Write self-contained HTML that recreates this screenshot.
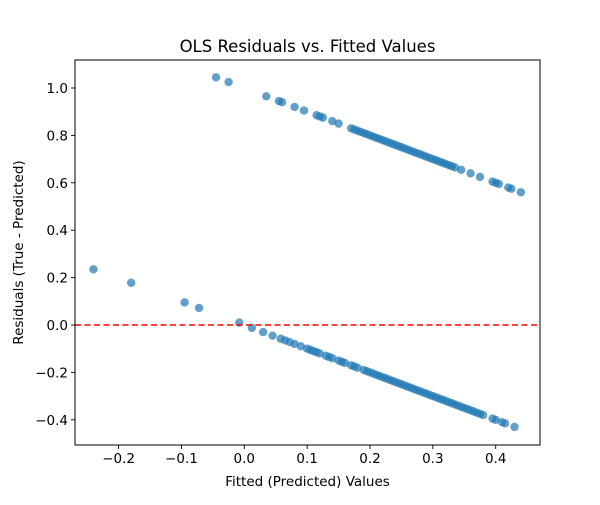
<!DOCTYPE html>
<html><head><meta charset="utf-8"><style>
body{margin:0;background:#fff;}
svg text{font-family:"DejaVu Sans","Liberation Sans",sans-serif;fill:#000;}
</style></head><body>
<svg id="chart" width="600" height="500" xmlns="http://www.w3.org/2000/svg">
<rect width="600" height="500" fill="#fff"/>
<g id="points"></g>
<g id="axes"></g>
</svg>
<script>
const fittedLow = [-0.24,-0.18,-0.095,-0.072,-0.008,0.012,0.03,0.045,0.058,0.065,0.072,0.08,0.09,0.1,0.105,0.11,0.115,0.12,0.13,0.135,0.14,0.15,0.155,0.16,0.17,0.175,0.18,0.19,0.195,0.2,0.205,0.21,0.215,0.22,0.225,0.23,0.235,0.24,0.245,0.25,0.255,0.26,0.265,0.27,0.275,0.28,0.285,0.29,0.295,0.3,0.305,0.31,0.315,0.32,0.325,0.33,0.335,0.34,0.345,0.35,0.355,0.36,0.365,0.37,0.375,0.38,0.395,0.4,0.41,0.415,0.43];
const residLow = [0.235,0.178,0.095,0.072,0.01,-0.012,-0.03,-0.045,-0.058,-0.065,-0.072,-0.08,-0.09,-0.1,-0.105,-0.11,-0.115,-0.12,-0.13,-0.135,-0.14,-0.15,-0.155,-0.16,-0.17,-0.175,-0.18,-0.19,-0.195,-0.2,-0.205,-0.21,-0.215,-0.22,-0.225,-0.23,-0.235,-0.24,-0.245,-0.25,-0.255,-0.26,-0.265,-0.27,-0.275,-0.28,-0.285,-0.29,-0.295,-0.3,-0.305,-0.31,-0.315,-0.32,-0.325,-0.33,-0.335,-0.34,-0.345,-0.35,-0.355,-0.36,-0.365,-0.37,-0.375,-0.38,-0.395,-0.4,-0.41,-0.415,-0.43];
const fittedHigh = [-0.045,-0.025,0.035,0.055,0.06,0.08,0.095,0.115,0.12,0.125,0.14,0.15,0.17,0.175,0.18,0.185,0.19,0.195,0.2,0.205,0.21,0.215,0.22,0.225,0.23,0.235,0.24,0.245,0.25,0.255,0.26,0.265,0.27,0.275,0.28,0.285,0.29,0.295,0.3,0.305,0.31,0.315,0.32,0.325,0.33,0.335,0.345,0.36,0.375,0.395,0.4,0.405,0.42,0.425,0.44];
const residHigh = [1.045,1.025,0.965,0.945,0.94,0.92,0.905,0.885,0.88,0.875,0.86,0.85,0.83,0.825,0.82,0.815,0.81,0.805,0.8,0.795,0.79,0.785,0.78,0.775,0.77,0.765,0.76,0.755,0.75,0.745,0.74,0.735,0.73,0.725,0.72,0.715,0.71,0.705,0.7,0.695,0.69,0.685,0.68,0.675,0.67,0.665,0.655,0.64,0.625,0.605,0.6,0.595,0.58,0.575,0.56];
const xTicks = [-0.2,-0.1,0.0,0.1,0.2,0.3,0.4];
const xTickLabels = ["\u22120.2","\u22120.1","0.0","0.1","0.2","0.3","0.4"];
const yTicks = [-0.4,-0.2,0.0,0.2,0.4,0.6,0.8,1.0];
const yTickLabels = ["\u22120.4","\u22120.2","0.0","0.2","0.4","0.6","0.8","1.0"];

const L=75,R=540,T=60,B=445;
function xs(v){return 244.3+628.5*v;}
function ys(v){return 325-237*v;}
const NS="http://www.w3.org/2000/svg";
function mk(tag,attrs,parent){const e=document.createElementNS(NS,tag);for(const k in attrs)e.setAttribute(k,attrs[k]);parent.appendChild(e);return e;}
const pts=document.getElementById('points');
const ax=document.getElementById('axes');
function drawSeries(fx,ry,name){
  for(let i=0;i<fx.length;i++){
    const c=mk('circle',{cx:xs(fx[i]),cy:ys(ry[i]),r:4.2,fill:'#1f77b4','fill-opacity':0.7},pts);
    
    
  }
}
drawSeries(fittedLow,residLow,'residual-point');
drawSeries(fittedHigh,residHigh,'residual-point');
const zl=mk('line',{x1:L,x2:R,y1:ys(0),y2:ys(0),stroke:'#ff0000','stroke-width':1.6,'stroke-dasharray':'6,3.5'},ax);


const fr=mk('rect',{x:L,y:T,width:R-L,height:B-T,fill:'none',stroke:'#000','stroke-width':1},ax);


xTicks.forEach((v,i)=>{
  const x=xs(v);
  mk('line',{x1:x,x2:x,y1:B,y2:B+4,stroke:'#000','stroke-width':0.9},ax);
  const t=mk('text',{x:x,y:B+18,'text-anchor':'middle','font-size':'13.5px'},ax);
  t.textContent=xTickLabels[i];
  
  
});
yTicks.forEach((v,i)=>{
  const y=ys(v);
  mk('line',{x1:L-4,x2:L,y1:y,y2:y,stroke:'#000','stroke-width':0.9},ax);
  const t=mk('text',{x:L-7,y:y+5,'text-anchor':'end','font-size':'13.5px'},ax);
  t.textContent=yTickLabels[i];
  
  
});
const title=mk('text',{x:(L+R)/2,y:52,'text-anchor':'middle','font-size':'16.5px'},ax);
title.textContent='OLS Residuals vs. Fitted Values';


const xl=mk('text',{x:(L+R)/2,y:486,'text-anchor':'middle','font-size':'13.5px'},ax);
xl.textContent='Fitted (Predicted) Values';


const yl=mk('text',{x:0,y:0,'text-anchor':'middle','font-size':'13.5px',transform:'translate(23,'+((T+B)/2)+') rotate(-90)'},ax);
yl.textContent='Residuals (True - Predicted)';


</script>
</body></html>
